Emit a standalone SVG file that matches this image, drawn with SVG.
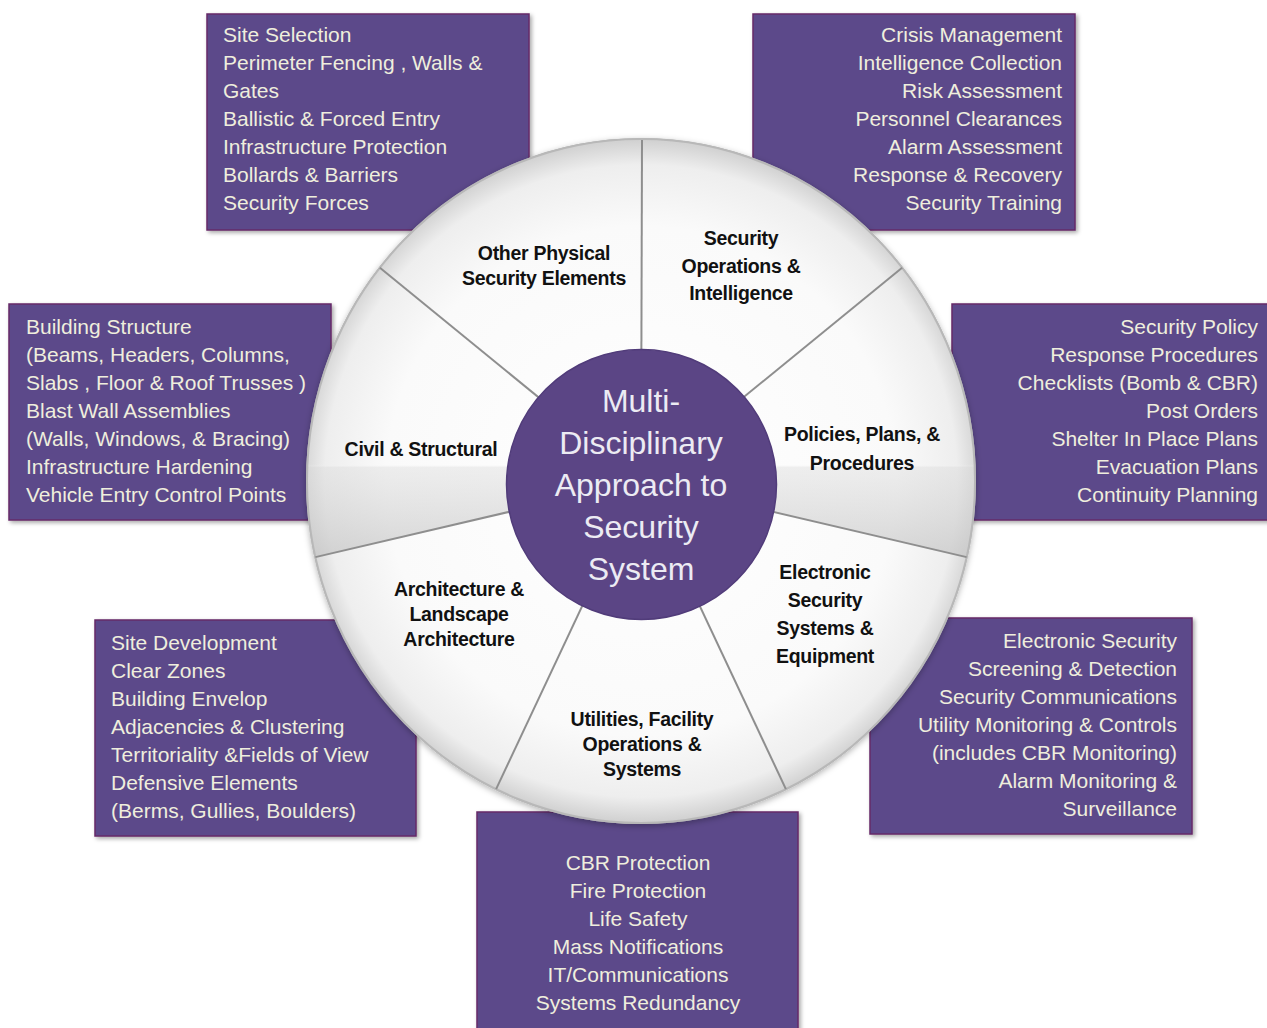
<svg xmlns="http://www.w3.org/2000/svg" width="1267" height="1028" viewBox="0 0 1267 1028">
<defs>
<style>
.box{fill:#5c4a8a;stroke:#652a68;stroke-width:1.5;filter:url(#bsh)}
.bt{font-family:"Liberation Sans",Arial,sans-serif;font-size:21px;fill:#efeedd}
.seg{fill:url(#segg)}
.lbl{font-family:"Liberation Sans",Arial,sans-serif;font-size:19.5px;font-weight:bold;fill:#111;text-anchor:middle;letter-spacing:-0.3px}
.ctr{font-family:"Liberation Sans",Arial,sans-serif;font-size:32px;fill:#ecebf3;text-anchor:middle}
.div{stroke:#8e8e8e;stroke-width:2;fill:none}
</style>
<filter id="bsh" x="-10%" y="-10%" width="125%" height="125%">
<feDropShadow dx="2" dy="2" stdDeviation="2" flood-color="#000" flood-opacity="0.35"/>
</filter>
<filter id="wsh" x="-10%" y="-10%" width="120%" height="120%">
<feDropShadow dx="0" dy="2" stdDeviation="3" flood-color="#000" flood-opacity="0.3"/>
</filter>
<radialGradient id="segg" gradientUnits="userSpaceOnUse" cx="641" cy="481" r="340">
<stop offset="0" stop-color="#ffffff"/>
<stop offset="0.75" stop-color="#fafafa"/>
<stop offset="0.93" stop-color="#eeeeee"/>
<stop offset="1" stop-color="#d2d2d2"/>
</radialGradient>
<linearGradient id="civg" gradientUnits="userSpaceOnUse" x1="0" y1="270" x2="0" y2="560">
<stop offset="0" stop-color="#ffffff" stop-opacity="0"/>
<stop offset="0.67" stop-color="#ffffff" stop-opacity="0"/>
<stop offset="0.68" stop-color="#d9d9d9" stop-opacity="0.4"/>
<stop offset="1" stop-color="#c4c4c4" stop-opacity="0.7"/>
</linearGradient>
</defs>
<rect width="1267" height="1028" fill="#ffffff"/>

<g id="box-physical">
<rect class="box" x="207" y="14" width="322" height="216"/>
<text class="bt" x="223" y="42">Site Selection</text>
<text class="bt" x="223" y="70">Perimeter Fencing , Walls &amp;</text>
<text class="bt" x="223" y="98">Gates</text>
<text class="bt" x="223" y="126">Ballistic &amp; Forced Entry</text>
<text class="bt" x="223" y="154">Infrastructure Protection</text>
<text class="bt" x="223" y="182">Bollards &amp; Barriers</text>
<text class="bt" x="223" y="210">Security Forces</text>
</g>

<g id="box-operations">
<rect class="box" x="753" y="14" width="322" height="216"/>
<g text-anchor="end">
<text class="bt" x="1062" y="42">Crisis Management</text>
<text class="bt" x="1062" y="70">Intelligence Collection</text>
<text class="bt" x="1062" y="98">Risk Assessment</text>
<text class="bt" x="1062" y="126">Personnel Clearances</text>
<text class="bt" x="1062" y="154">Alarm Assessment</text>
<text class="bt" x="1062" y="182">Response &amp; Recovery</text>
<text class="bt" x="1062" y="210">Security Training</text>
</g>
</g>

<g id="box-civil">
<rect class="box" x="9" y="304" width="322" height="216"/>
<text class="bt" x="26" y="334">Building Structure</text>
<text class="bt" x="26" y="362">(Beams, Headers, Columns,</text>
<text class="bt" x="26" y="390">Slabs , Floor &amp; Roof Trusses )</text>
<text class="bt" x="26" y="418">Blast Wall Assemblies</text>
<text class="bt" x="26" y="446">(Walls, Windows, &amp; Bracing)</text>
<text class="bt" x="26" y="474">Infrastructure Hardening</text>
<text class="bt" x="26" y="502">Vehicle Entry Control  Points</text>
</g>

<g id="box-policies">
<rect class="box" x="952" y="304" width="322" height="216"/>
<g text-anchor="end">
<text class="bt" x="1258" y="334">Security Policy</text>
<text class="bt" x="1258" y="362">Response Procedures</text>
<text class="bt" x="1258" y="390">Checklists (Bomb &amp; CBR)</text>
<text class="bt" x="1258" y="418">Post Orders</text>
<text class="bt" x="1258" y="446">Shelter In Place Plans</text>
<text class="bt" x="1258" y="474">Evacuation Plans</text>
<text class="bt" x="1258" y="502">Continuity Planning</text>
</g>
</g>

<g id="box-architecture">
<rect class="box" x="95" y="620" width="321" height="216"/>
<text class="bt" x="111" y="650">Site Development</text>
<text class="bt" x="111" y="678">Clear Zones</text>
<text class="bt" x="111" y="706">Building Envelop</text>
<text class="bt" x="111" y="734">Adjacencies &amp; Clustering</text>
<text class="bt" x="111" y="762">Territoriality &amp;Fields of View</text>
<text class="bt" x="111" y="790">Defensive Elements</text>
<text class="bt" x="111" y="818">(Berms, Gullies, Boulders)</text>
</g>

<g id="box-electronic">
<rect class="box" x="870" y="618" width="322" height="216"/>
<g text-anchor="end">
<text class="bt" x="1177" y="648">Electronic Security</text>
<text class="bt" x="1177" y="676">Screening &amp; Detection</text>
<text class="bt" x="1177" y="704">Security Communications</text>
<text class="bt" x="1177" y="732">Utility Monitoring &amp; Controls</text>
<text class="bt" x="1177" y="760">(includes CBR Monitoring)</text>
<text class="bt" x="1177" y="788">Alarm Monitoring &amp;</text>
<text class="bt" x="1177" y="816">Surveillance</text>
</g>
</g>

<g id="box-utilities">
<rect class="box" x="477" y="812" width="321" height="222"/>
<g text-anchor="middle">
<text class="bt" x="638" y="870">CBR Protection</text>
<text class="bt" x="638" y="898">Fire Protection</text>
<text class="bt" x="638" y="926">Life Safety</text>
<text class="bt" x="638" y="954">Mass Notifications</text>
<text class="bt" x="638" y="982">IT/Communications</text>
<text class="bt" x="638" y="1010">Systems Redundancy</text>
</g>
</g>

<g id="wheel">
<ellipse cx="641" cy="481" rx="334" ry="342" fill="#e6e6e6" stroke="#b4b4b4" stroke-width="2" filter="url(#wsh)"/>
<g id="seg-physical"><path class="seg" d="M641,481 L641,139 A334,342 0 0 0 379.9,267.8 Z"/></g>
<g id="seg-civil"><path class="seg" d="M641,481 L379.9,267.8 A334,342 0 0 0 315.4,557.1 Z"/><path fill="url(#civg)" d="M641,481 L379.9,267.8 A334,342 0 0 0 315.4,557.1 Z"/></g>
<g id="seg-architecture"><path class="seg" d="M641,481 L315.4,557.1 A334,342 0 0 0 496.1,789.1 Z"/></g>
<g id="seg-utilities"><path class="seg" d="M641,481 L496.1,789.1 A334,342 0 0 0 785.9,789.1 Z"/></g>
<g id="seg-electronic"><path class="seg" d="M641,481 L785.9,789.1 A334,342 0 0 0 966.6,557.1 Z"/></g>
<g id="seg-policies"><path class="seg" d="M641,481 L966.6,557.1 A334,342 0 0 0 902.1,267.8 Z"/><path fill="url(#civg)" d="M641,481 L966.6,557.1 A334,342 0 0 0 902.1,267.8 Z"/></g>
<g id="seg-operations"><path class="seg" d="M641,481 L902.1,267.8 A334,342 0 0 0 641,139 Z"/></g>
<ellipse cx="641" cy="481" rx="334" ry="342" fill="none" stroke="#b8b8b8" stroke-width="2"/>
</g>

<g id="connectors">
<line class="div" x1="641" y1="481" x2="642" y2="140"/>
<line class="div" x1="641" y1="481" x2="379.9" y2="267.8"/>
<line class="div" x1="641" y1="481" x2="315.4" y2="557.1"/>
<line class="div" x1="641" y1="481" x2="496.1" y2="789.1"/>
<line class="div" x1="641" y1="481" x2="785.9" y2="789.1"/>
<line class="div" x1="641" y1="481" x2="966.6" y2="557.1"/>
<line class="div" x1="641" y1="481" x2="902.1" y2="267.8"/>
</g>

<g id="center">
<circle cx="641.5" cy="484.5" r="135" fill="#5b4585" stroke="#513c7a" stroke-width="1.5"/>
<text class="ctr" x="641" y="412">Multi-</text>
<text class="ctr" x="641" y="454">Disciplinary</text>
<text class="ctr" x="641" y="496">Approach to</text>
<text class="ctr" x="641" y="538">Security</text>
<text class="ctr" x="641" y="580">System</text>
</g>

<g id="labels">
<text class="lbl" x="544" y="260">Other Physical</text>
<text class="lbl" x="544" y="285">Security Elements</text>
<text class="lbl" x="741" y="245">Security</text>
<text class="lbl" x="741" y="273">Operations &amp;</text>
<text class="lbl" x="741" y="300">Intelligence</text>
<text class="lbl" x="421" y="456">Civil &amp; Structural</text>
<text class="lbl" x="862" y="441">Policies, Plans, &amp;</text>
<text class="lbl" x="862" y="470">Procedures</text>
<text class="lbl" x="825" y="579">Electronic</text>
<text class="lbl" x="825" y="607">Security</text>
<text class="lbl" x="825" y="635">Systems &amp;</text>
<text class="lbl" x="825" y="663">Equipment</text>
<text class="lbl" x="459" y="596">Architecture &amp;</text>
<text class="lbl" x="459" y="621">Landscape</text>
<text class="lbl" x="459" y="646">Architecture</text>
<text class="lbl" x="642" y="726">Utilities, Facility</text>
<text class="lbl" x="642" y="751">Operations &amp;</text>
<text class="lbl" x="642" y="776">Systems</text>
</g>
</svg>
